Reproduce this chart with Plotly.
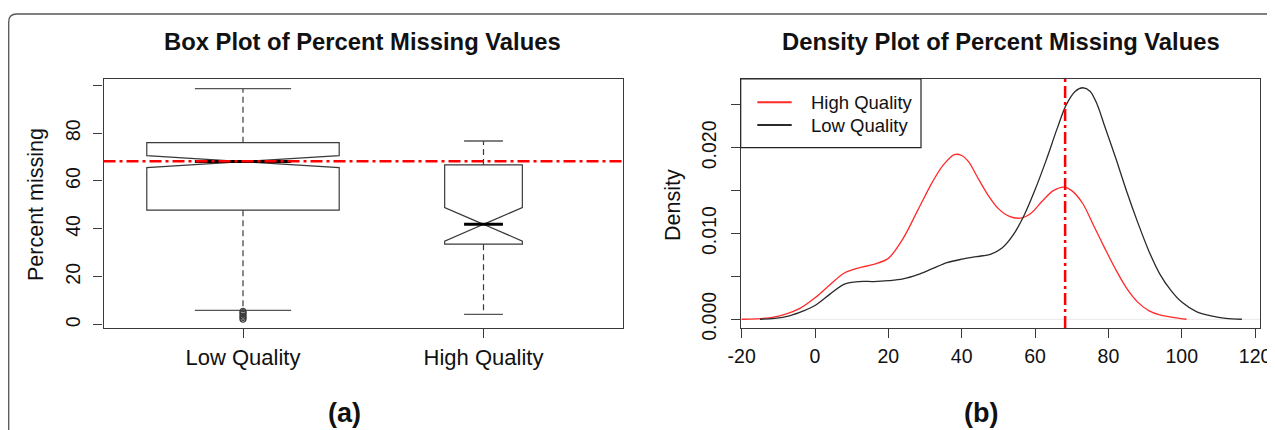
import plotly.graph_objects as go

# ---------------- data ----------------
groups = ["Low Quality", "High Quality"]
box_q1 = [47.8, 33.6]
box_median = [68.1, 41.9]
box_q3 = [76.0, 66.7]
box_lower = [6.0, 4.3]
box_upper = [98.6, 76.7]
box_notch = [2.5, 7.0]
low_outliers = [2.3, 3.0, 3.6, 4.3, 5.0, 5.6]
overall_median = 68.2

dens_high_x = [-20, -16, -12, -8, -4, 0, 4, 8, 12, 16, 20, 24, 28, 32, 35, 38, 40, 42, 44,
               47, 50, 53, 56, 59, 62, 65, 68, 70, 73, 76, 79, 82, 85, 88, 91, 94, 98, 101.3]
dens_high_y = [0.0, 0.00005, 0.0002, 0.0006, 0.0013, 0.0025, 0.0040, 0.0054, 0.0060, 0.0064,
               0.0071, 0.0094, 0.0127, 0.0160, 0.0180, 0.0192, 0.0191, 0.0183, 0.0168,
               0.0146, 0.0129, 0.0120, 0.0118, 0.0124, 0.0138, 0.0150, 0.0154, 0.0150,
               0.0135, 0.0109, 0.0083, 0.0058, 0.0036, 0.0020, 0.0010, 0.0005, 0.0002, 0.0]
dens_low_x = [-15, -11, -7, -3, 0, 4, 8, 12, 16, 20, 24, 28, 32, 36, 40, 44, 48, 51, 54, 57,
              60, 63, 66, 68.5, 71, 73, 75, 77, 79, 82, 85, 88, 91, 94, 97, 100, 104, 108,
              112, 116.4]
dens_low_y = [0.0, 0.0001, 0.0004, 0.0010, 0.0016, 0.0029, 0.0041, 0.0044, 0.0044, 0.0045,
              0.0047, 0.0052, 0.0059, 0.0066, 0.0070, 0.0073, 0.0076, 0.0083, 0.0098, 0.0121,
              0.0151, 0.0185, 0.0222, 0.0250, 0.0266, 0.0270, 0.0266, 0.0250, 0.0225, 0.0188,
              0.0149, 0.0113, 0.0080, 0.0053, 0.0034, 0.0020, 0.0009, 0.0004, 0.0001, 0.0]

box_yticks = [0, 20, 40, 60, 80, 100]
box_yticktext = ["0", "20", "40", "60", "80", ""]
dens_xticks = [-20, 0, 20, 40, 60, 80, 100, 120]
dens_xticktext = ["-20", "0", "20", "40", "60", "80", "100", "120"]
dens_yticks = [0, 0.005, 0.010, 0.015, 0.020, 0.025]
dens_yticktext = ["0.000", "", "0.010", "", "0.020", ""]
legend_names = ["High Quality", "Low Quality"]

# ---------------- style ----------------
OFF = 8            # page body margin (figure starts 8px in)
W, H = 1275, 430   # figure size
FONT = "Liberation Sans, Arial, Helvetica, sans-serif"
AX = "#3a3a3a"
TXT = "#111111"
RED = "#ff2a2a"
DARK = "#2a2a2a"
box_pos = [1, 2]
box_width = [0.8, 0.323]


def px(x):
    return (x - OFF) / W


def py(y):
    return 1 - (y - OFF) / H


fig = go.Figure()

# ---- box plot panel ----
for i, g in enumerate(groups):
    p, w = box_pos[i], box_width[i]
    fig.add_trace(go.Scatter(
        x=[p, p, None, p, p],
        y=[box_q3[i], box_upper[i], None, box_q1[i], box_lower[i]],
        mode="lines", line=dict(color=AX, width=1.2, dash="6px,4px"),
        showlegend=False, hoverinfo="skip", xaxis="x", yaxis="y"))
    fig.add_trace(go.Scatter(
        x=[p - w / 4, p + w / 4, None, p - w / 4, p + w / 4],
        y=[box_upper[i], box_upper[i], None, box_lower[i], box_lower[i]],
        mode="lines", line=dict(color="#555555", width=1.3),
        showlegend=False, hoverinfo="skip", xaxis="x", yaxis="y"))
    fig.add_trace(go.Box(
        x=[p], q1=[box_q1[i]], median=[box_median[i]], q3=[box_q3[i]],
        lowerfence=[box_q1[i]], upperfence=[box_q3[i]], notchspan=[box_notch[i]],
        notched=True, notchwidth=0.5, width=w, whiskerwidth=0,
        fillcolor="white", line=dict(color=AX, width=1.2), boxpoints=False,
        name=g, showlegend=False, hoverinfo="skip", xaxis="x", yaxis="y"))
    fig.add_trace(go.Scatter(
        x=[p - w / 4, p + w / 4], y=[box_median[i], box_median[i]],
        mode="lines", line=dict(color="black", width=3),
        showlegend=False, hoverinfo="skip", xaxis="x", yaxis="y"))

fig.add_trace(go.Scatter(
    x=[box_pos[0]] * len(low_outliers), y=low_outliers, mode="markers",
    marker=dict(symbol="circle-open", size=6, color=AX, line=dict(width=1.2)),
    showlegend=False, hoverinfo="skip", xaxis="x", yaxis="y"))

# ---- density panel ----
fig.add_trace(go.Scatter(
    x=dens_high_x, y=dens_high_y, mode="lines", name=legend_names[0],
    line=dict(color=RED, width=1.3, shape="spline", smoothing=0.9),
    showlegend=False, xaxis="x2", yaxis="y2"))
fig.add_trace(go.Scatter(
    x=dens_low_x, y=dens_low_y, mode="lines", name=legend_names[1],
    line=dict(color=DARK, width=1.3, shape="spline", smoothing=0.9),
    showlegend=False, xaxis="x2", yaxis="y2"))

axis_common = dict(showgrid=False, zeroline=False, showline=True, mirror=True,
                   linecolor=AX, linewidth=1.3, ticks="outside", ticklen=9,
                   tickwidth=1.2, tickcolor=AX, automargin=False)
num_font = dict(family=FONT, size=19.5, color=TXT)
cat_font = dict(family=FONT, size=22, color=TXT)

ydom = [py(328), py(79)]
x2dom = [px(740.7), px(1260)]

# legend (R style, inside top-left of density panel)
leg_w = (921 - 740.7) / (1260 - 740.7)
leg_b = (328 - 147.7) / (328 - 79)
leg_rows = [(328 - 102.3) / 249, (328 - 125) / 249]
leg_colors = [RED, DARK]
leg_shapes = [dict(type="rect", xref="x2 domain", yref="y2 domain", x0=0, x1=leg_w,
                   y0=leg_b, y1=1, line=dict(color="#222222", width=1.2),
                   fillcolor="white", layer="above")]
leg_ann = []
for r, c, n in zip(leg_rows, leg_colors, legend_names):
    leg_shapes.append(dict(type="line", xref="x2 domain", yref="y2 domain",
                           x0=16.6 / 519.3, x1=51 / 519.3, y0=r, y1=r,
                           line=dict(color=c, width=2)))
    leg_ann.append(dict(text=n, xref="x2 domain", yref="y2 domain", x=68.6 / 519.3, y=r,
                        xanchor="left", yanchor="middle", showarrow=False,
                        font=dict(family=FONT, size=18.5, color=TXT)))

fig.update_layout(
    width=W, height=H, margin=dict(l=0, r=0, t=0, b=0),
    paper_bgcolor="white", plot_bgcolor="white",
    boxmode="overlay", showlegend=False,
    font=dict(family=FONT, color=TXT),
    xaxis=dict(domain=[px(103.5), px(623)], range=[0.42, 2.58], ticklabelstandoff=0,
               tickvals=box_pos, ticktext=groups, tickfont=cat_font, **axis_common),
    yaxis=dict(domain=ydom, range=[-1.4, 102.6], tickvals=box_yticks, ticklabelstandoff=6,
               ticktext=box_yticktext, tickangle=-90, tickfont=num_font, **axis_common),
    xaxis2=dict(domain=x2dom, range=[-20.27, 121.35], ticklabelstandoff=1,
                tickvals=dens_xticks, ticktext=dens_xticktext, anchor="y2",
                tickfont=num_font, **axis_common),
    yaxis2=dict(domain=ydom, range=[-0.00102, 0.02802], tickvals=dens_yticks,
                ticklabelstandoff=7, ticktext=dens_yticktext, tickangle=-90, anchor="x2",
                tickfont=num_font, **axis_common),
    shapes=[
        dict(type="path", xref="paper", yref="paper",
             path=f"M {px(8.7)},{-0.05} L {px(8.7)},{py(22)} Q {px(8.7)},{py(14)} {px(16.7)},{py(14)} L 1.05,{py(14)}",
             line=dict(color="#555555", width=1.3)),
        dict(type="line", xref="x2 domain", x0=0, x1=1, yref="y2", y0=0, y1=0,
             line=dict(color="#e8e8e8", width=1), layer="below"),
        dict(type="line", xref="x domain", x0=0, x1=1, yref="y",
             y0=overall_median, y1=overall_median,
             line=dict(color="#ff0000", width=2.5, dash="12px,4px,3px,4px")),
        dict(type="line", xref="x2", x0=overall_median, x1=overall_median,
             yref="y2 domain", y0=0, y1=1,
             line=dict(color="#ff0000", width=2.5, dash="12px,4px,3px,4px")),
    ] + leg_shapes,
    annotations=[
        dict(text="<b>Box Plot of Percent Missing Values</b>", x=px(362.5), y=py(42),
             xref="paper", yref="paper", showarrow=False, xanchor="center", yanchor="middle",
             font=dict(family=FONT, size=23.8, color=TXT)),
        dict(text="<b>Density Plot of Percent Missing Values</b>", x=px(1001), y=py(42),
             xref="paper", yref="paper", showarrow=False, xanchor="center", yanchor="middle",
             font=dict(family=FONT, size=23.8, color=TXT)),
        dict(text="Percent missing", x=px(36), y=py(205), textangle=-90,
             xref="paper", yref="paper", showarrow=False, xanchor="center", yanchor="middle",
             font=dict(family=FONT, size=21.5, color=TXT)),
        dict(text="Density", x=px(673), y=py(205), textangle=-90,
             xref="paper", yref="paper", showarrow=False, xanchor="center", yanchor="middle",
             font=dict(family=FONT, size=21.5, color=TXT)),
        dict(text="<b>(a)</b>", x=px(344), y=py(412.5),
             xref="paper", yref="paper", showarrow=False, xanchor="center", yanchor="middle",
             font=dict(family=FONT, size=27, color=TXT)),
        dict(text="<b>(b)</b>", x=px(981), y=py(412.5),
             xref="paper", yref="paper", showarrow=False, xanchor="center", yanchor="middle",
             font=dict(family=FONT, size=27, color=TXT)),
    ] + leg_ann,
)

fig.write_html("out.html")
